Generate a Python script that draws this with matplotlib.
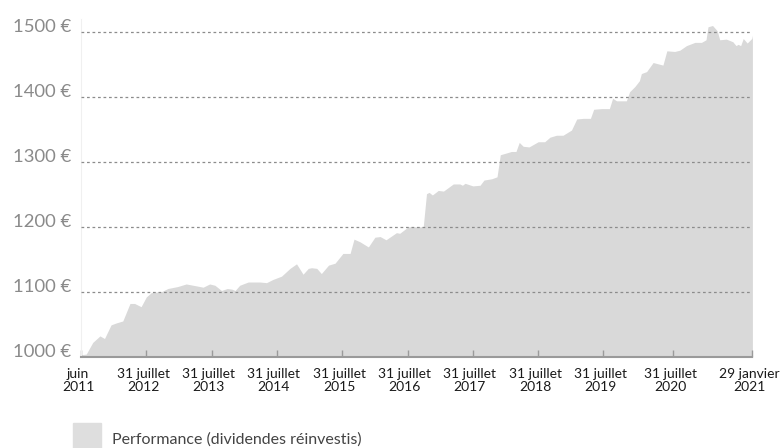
import matplotlib
matplotlib.use("Agg")
import matplotlib.pyplot as plt
from matplotlib.patches import Patch
import matplotlib.transforms as mtransforms

plt.rcParams['font.family'] = ['Lato', 'DejaVu Sans']

# x position in "years since start" (tick spacing of the original axis)
x_pos = [0.00, 0.08, 0.18, 0.29, 0.36, 0.46, 0.54, 0.64, 0.75, 0.82, 0.92,
         1.00, 1.08, 1.23, 1.33, 1.48, 1.61, 1.77, 1.87, 1.97, 2.05, 2.15,
         2.24, 2.31, 2.36, 2.43, 2.56, 2.74, 2.84, 2.94, 3.07, 3.20, 3.30,
         3.40, 3.48, 3.53, 3.61, 3.68, 3.79, 3.89, 4.01, 4.12, 4.18, 4.27,
         4.40, 4.50, 4.58, 4.67, 4.83, 4.88, 5.01, 5.11, 5.24, 5.29, 5.33,
         5.38, 5.47, 5.55, 5.70, 5.80, 5.84, 5.88, 6.00, 6.11, 6.17, 6.29,
         6.37, 6.42, 6.49, 6.59, 6.66, 6.71, 6.77, 6.86, 7.00, 7.10, 7.18,
         7.28, 7.38, 7.51, 7.59, 7.69, 7.80, 7.85, 7.97, 8.09, 8.14, 8.20,
         8.35, 8.40, 8.48, 8.55, 8.58, 8.66, 8.76, 8.91, 8.97, 9.09, 9.17,
         9.27, 9.40, 9.50, 9.57, 9.60, 9.67, 9.74, 9.78, 9.88, 9.98, 10.03,
         10.06, 10.10, 10.14, 10.20, 10.27, 10.28]
perf = [1003, 1004, 1022, 1032, 1028, 1049, 1052, 1055, 1082, 1082, 1077,
        1092, 1099, 1100, 1105, 1108, 1112, 1109, 1107, 1112, 1110, 1102,
        1105, 1104, 1102, 1110, 1115, 1115, 1114, 1119, 1124, 1136, 1143,
        1127, 1136, 1137, 1136, 1128, 1141, 1144, 1159, 1159, 1181, 1177,
        1169, 1184, 1185, 1180, 1191, 1190, 1200, 1200, 1200, 1251, 1253,
        1249, 1256, 1255, 1266, 1266, 1264, 1267, 1263, 1264, 1272, 1274,
        1277, 1311, 1313, 1316, 1316, 1330, 1324, 1323, 1331, 1331, 1338,
        1341, 1341, 1349, 1366, 1367, 1367, 1381, 1382, 1382, 1398, 1394,
        1394, 1408, 1416, 1425, 1436, 1439, 1453, 1449, 1471, 1470, 1472,
        1479, 1484, 1484, 1488, 1508, 1510, 1502, 1488, 1489, 1485, 1479,
        1481, 1479, 1490, 1483, 1490, 1495]

tick_pos = [0, 1, 2, 3, 4, 5, 6, 7, 8, 9.07, 10.28]
tick_labels = ["juin\n2011", "31 juillet\n2012", "31 juillet\n2013",
               "31 juillet\n2014", "31 juillet\n2015", "31 juillet\n2016",
               "31 juillet\n2017", "31 juillet\n2018", "31 juillet\n2019",
               "31 juillet\n2020", "29 janvier\n2021"]
y_ticks = [1000, 1100, 1200, 1300, 1400, 1500]

fig = plt.figure(figsize=(7.81, 4.48), dpi=100)
ax = fig.add_axes([81 / 781, 1 - 356.7 / 448, (752.4 - 81) / 781, 337.7 / 448])

ax.fill_between(x_pos, 1000, perf, color='#d9d9d9', linewidth=0,
                label='Performance (dividendes réinvestis)', zorder=1)

for y in y_ticks[1:]:
    ax.axhline(y, color='#8c8c8c', linewidth=0.9, linestyle=(0, (2.2, 2.2)),
               zorder=3)

ax.set_xlim(0, 10.28)
ax.set_ylim(1000, 1520)

ax.set_yticks(y_ticks)
ax.set_yticklabels([f"{v} €" for v in y_ticks])
ax.tick_params(axis='y', length=0, pad=7, labelsize=13.3, labelcolor='#8a8a8a')
for lab in ax.get_yticklabels():
    lab.set_va('baseline')

ax.set_xticks(tick_pos)
ax.set_xticklabels(tick_labels, linespacing=1.12)
ax.tick_params(axis='x', direction='in', length=5, width=1, color='#9a9a9a',
               pad=8, labelsize=10, labelcolor='#1a1a1a')
shift = mtransforms.ScaledTranslation(-3 / 100, 0, fig.dpi_scale_trans)
for lab in ax.get_xticklabels():
    lab.set_transform(lab.get_transform() + shift)

for side in ['top', 'right']:
    ax.spines[side].set_visible(False)
ax.spines['left'].set_color('#f0f0f0')
ax.spines['left'].set_linewidth(0.8)
ax.spines['bottom'].set_color('#9a9a9a')
ax.spines['bottom'].set_linewidth(1.5)
ax.spines['bottom'].set_zorder(4)

fig.legend(handles=[Patch(color='#dedede')],
           labels=['Performance (dividendes réinvestis)'],
           loc='upper left', bbox_to_anchor=(73 / 781, 1 - 423 / 448),
           frameon=False, fontsize=11.5, handlelength=1.75, handleheight=2.7,
           handletextpad=0.7, borderpad=0, borderaxespad=0,
           labelcolor='#444444')

fig.savefig('out.png', dpi=100)
